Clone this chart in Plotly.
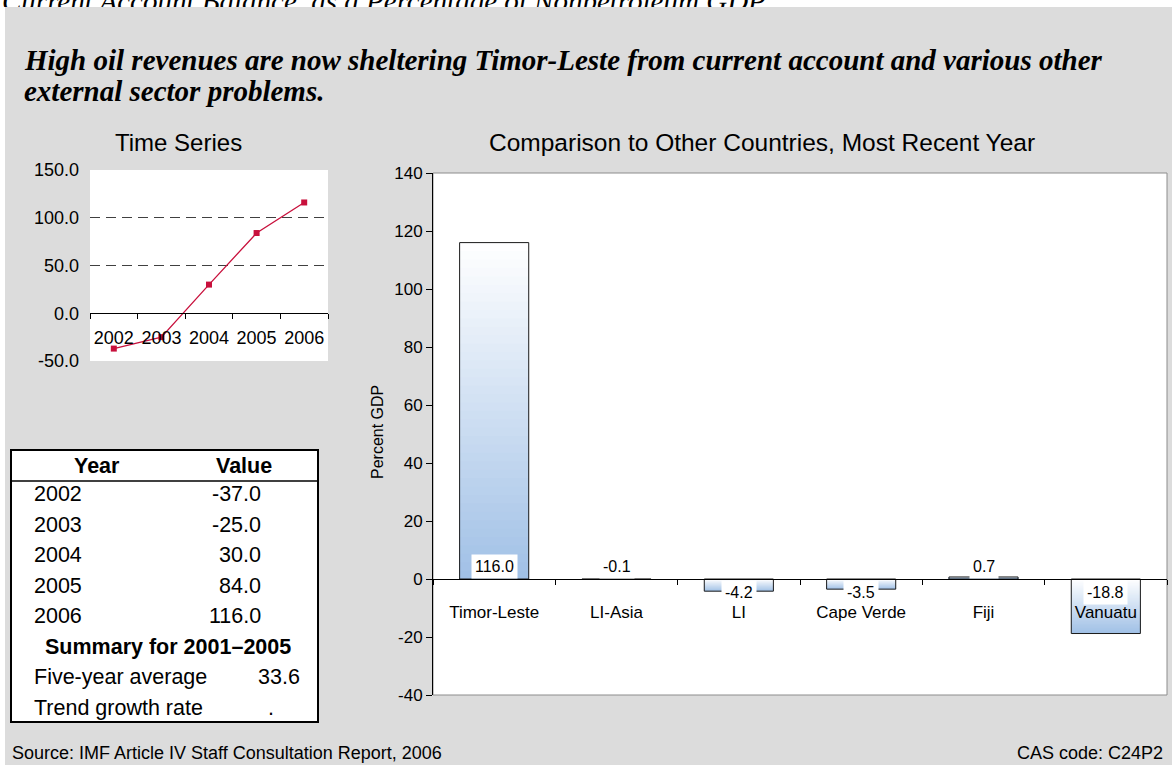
import plotly.graph_objects as go

W, H = 1172, 765

# ---------------- data ----------------
years = ["2002", "2003", "2004", "2005", "2006"]
ts_values = [-37.0, -25.0, 30.0, 84.0, 116.0]
ts_ticks = [-50, 0, 50, 100, 150]

countries = ["Timor-Leste", "LI-Asia", "LI", "Cape Verde", "Fiji", "Vanuatu"]
country_values = [116.0, -0.1, -4.2, -3.5, 0.7, -18.8]
bar_ticks = [-40, -20, 0, 20, 40, 60, 80, 100, 120, 140]

summary_title = "Summary for 2001\u20132005"
summary_labels = ["Five-year average", "Trend growth rate"]
summary_values = ["33.6", "."]

page_heading = "Current Account Balance, as a Percentage of Nonpetroleum GDP"
title_line1 = "High oil revenues are now sheltering Timor-Leste from current account and various other"
title_line2 = "external sector problems."
source_text = "Source: IMF Article IV Staff Consultation Report, 2006"
code_text = "CAS code: C24P2"

SANS = "Liberation Sans, Arial, sans-serif"
SERIF = "Liberation Serif, Times New Roman, serif"
GRAY = "#dcdcdc"


def fx(x):
    return x / W


def fy(y):
    return 1 - y / H


# ---------------- geometry ----------------
ts_dom_x = [fx(90), fx(328)]
ts_dom_y = [fy(361), fy(170)]
ts_range = [-50, 150]
ts_zero = ts_dom_y[0] + (0 - ts_range[0]) / (ts_range[1] - ts_range[0]) * (ts_dom_y[1] - ts_dom_y[0])

bc_dom_x = [fx(433), fx(1167)]
bc_dom_y = [fy(695), fy(173)]
bc_range = [-40, 140]
bc_zero = bc_dom_y[0] + (0 - bc_range[0]) / (bc_range[1] - bc_range[0]) * (bc_dom_y[1] - bc_dom_y[0])

fig = go.Figure()

# ---------------- page heading, clipped by the white top strip (its own tiny subplot) ----------------
fig.add_trace(go.Scatter(
    x=[0], y=[0], mode="text", text=[f"<i>{page_heading}</i>"],
    textposition="middle right", cliponaxis=True,
    textfont=dict(family=SERIF, size=29, color="black"),
    xaxis="x3", yaxis="y3", showlegend=False, hoverinfo="skip",
))

# ---------------- time series ----------------
fig.add_trace(go.Scatter(
    x=years, y=ts_values, mode="lines+markers",
    line=dict(color="#c8103c", width=1.3),
    marker=dict(symbol="square", size=6, color="#c8103c"),
    xaxis="x", yaxis="y", showlegend=False, hoverinfo="skip",
))

# ---------------- bar chart (gradient fill) ----------------
blue = (160, 192, 230)
white = (255, 255, 255)


def lerp(a, b, t):
    return "rgb(%d,%d,%d)" % tuple(round(a[i] + (b[i] - a[i]) * t) for i in range(3))


N = 40
for k in range(N):
    frac = (N - k) / N
    t = (N - k - 0.5) / N
    ys = [v * frac for v in country_values]
    cols = [lerp(blue, white, t) if v >= 0 else lerp(white, blue, t) for v in country_values]
    fig.add_trace(go.Bar(
        x=countries, y=ys, marker=dict(color=cols, line=dict(width=0)),
        xaxis="x2", yaxis="y2", showlegend=False, hoverinfo="skip",
    ))

fig.add_trace(go.Bar(
    x=countries, y=country_values,
    marker=dict(color="rgba(0,0,0,0)", line=dict(color="#1a1a1a", width=1)),
    xaxis="x2", yaxis="y2", showlegend=False, hoverinfo="skip",
))

annotations = []


def txt(text, x, y, size, xanchor="left", bold=False, italic=False, family=SANS, yanchor="middle", **kw):
    if bold:
        text = f"<b>{text}</b>"
    if italic:
        text = f"<i>{text}</i>"
    d = dict(text=text, x=fx(x), y=fy(y), xref="paper", yref="paper",
             xanchor=xanchor, yanchor=yanchor, showarrow=False,
             font=dict(family=family, size=size, color="black"))
    d.update(kw)
    return d


# bar value labels
for c, v in zip(countries, country_values):
    above = v > -1
    annotations.append(dict(
        x=c, y=0, xref="x2", yref="y2", text=f"{v:.1f}", showarrow=False,
        bgcolor="white", borderpad=3, font=dict(family=SANS, size=16, color="black"),
        yanchor="bottom" if above else "top", yshift=0 if above else -1,
    ))

annotations.append(txt(title_line1, 22, 60, 29, bold=True, italic=True, family=SERIF))
annotations.append(txt(title_line2, 22, 91, 29, bold=True, italic=True, family=SERIF))
annotations.append(txt("Time Series", 178, 142, 24, xanchor="center"))
annotations.append(txt("Comparison to Other Countries, Most Recent Year", 762, 142, 24.5, xanchor="center"))
annotations.append(txt("Percent GDP", 377, 432, 16, xanchor="center", textangle=-90))
annotations.append(txt(source_text, 10, 753, 18))
annotations.append(txt(code_text, 1165, 753, 18, xanchor="right"))

# table
TF = 21.5
annotations.append(txt("Year", 97, 466, TF, xanchor="center", bold=True))
annotations.append(txt("Value", 244, 466, TF, xanchor="center", bold=True))
row_y = [494 + 30.5 * i for i in range(8)]
for i, (yr, v) in enumerate(zip(years, ts_values)):
    annotations.append(txt(yr, 32, row_y[i], TF))
    annotations.append(txt(f"{v:.1f}", 263, row_y[i], TF, xanchor="right"))
annotations.append(txt(summary_title, 168, row_y[5], TF, xanchor="center", bold=True))
for j, (lab, val) in enumerate(zip(summary_labels, summary_values)):
    annotations.append(txt(lab, 32, row_y[6 + j], TF))
    annotations.append(txt(val, 302 if val != "." else 276, row_y[6 + j], TF, xanchor="right"))

shapes = [
    # white left page strip
    dict(type="rect", xref="paper", yref="paper", x0=0, x1=fx(5), y0=0, y1=fy(7),
         fillcolor="white", line=dict(width=0), layer="below"),
    # bar chart frame
    dict(type="rect", xref="x2 domain", yref="y2 domain", x0=0, x1=1, y0=0, y1=1,
         fillcolor="rgba(0,0,0,0)", line=dict(color="#8c8c8c", width=1), layer="below"),
    # table
    dict(type="rect", xref="paper", yref="paper", x0=fx(11), x1=fx(318), y0=fy(722), y1=fy(450),
         fillcolor="white", line=dict(color="black", width=2), layer="below"),
    dict(type="line", xref="paper", yref="paper", x0=fx(11), x1=fx(318), y0=fy(481), y1=fy(481),
         line=dict(color="black", width=1.5), layer="below"),
]

ts_font = dict(family=SANS, size=18, color="black")
bc_font = dict(family=SANS, size=17, color="black")

# heading strip: 7 px tall; y3 values are "pixels above the strip's top edge"
head_bl = 6           # wanted baseline, px from page top
head_mid = head_bl - 0.35 * 29   # text middle, px from page top

fig.update_layout(
    autosize=True,
    margin=dict(l=0, r=0, t=0, b=0, pad=0, autoexpand=False),
    paper_bgcolor=GRAY, plot_bgcolor="white",
    barmode="overlay", bargap=0.435,
    showlegend=False,
    annotations=annotations, shapes=shapes,
    xaxis=dict(
        domain=ts_dom_x, type="category", anchor="free", position=ts_zero,
        range=[-0.5, 4.5], showline=True, linecolor="black", linewidth=1,
        ticks="outside", ticklen=5, tickcolor="black", tickson="boundaries",
        showgrid=False, zeroline=False, tickfont=ts_font, tickangle=0,
        ticklabelstandoff=8, fixedrange=True, automargin=False,
    ),
    yaxis=dict(
        domain=ts_dom_y, anchor="x", range=ts_range,
        tickvals=ts_ticks, ticktext=[f"{v:.1f}" for v in ts_ticks],
        showgrid=True, gridcolor="#404040", griddash="10px,6px", gridwidth=1,
        zeroline=False, showline=False, ticks="", tickfont=ts_font,
        ticklabelstandoff=10, fixedrange=True, automargin=False,
    ),
    xaxis2=dict(
        domain=bc_dom_x, type="category", anchor="free", position=bc_zero,
        range=[-0.5, 5.5], showline=True, linecolor="black", linewidth=1,
        ticks="outside", ticklen=5, tickcolor="black", tickson="boundaries",
        showgrid=False, zeroline=False, tickfont=bc_font, tickangle=0,
        ticklabelstandoff=18, fixedrange=True, automargin=False,
    ),
    yaxis2=dict(
        domain=bc_dom_y, anchor="x2", range=bc_range,
        tickvals=bar_ticks, ticktext=[str(v) for v in bar_ticks],
        showgrid=False, zeroline=False, showline=True, linecolor="black", linewidth=1,
        ticks="outside", ticklen=6, tickcolor="black", tickfont=bc_font,
        fixedrange=True, automargin=False,
    ),
    xaxis3=dict(domain=[0, 1], range=[-2, W - 2], visible=False, fixedrange=True, automargin=False),
    yaxis3=dict(domain=[fy(7), 1], range=[-(7 + head_mid), -head_mid],
                visible=False, fixedrange=True, automargin=False),
)

# the div is pinned to the window's top-left corner so the browser's default body margin has no effect
fig.write_html("out.html", config={"displayModeBar": False},
               default_width="1172px;position:absolute;left:0px;top:0px", default_height="765px")
